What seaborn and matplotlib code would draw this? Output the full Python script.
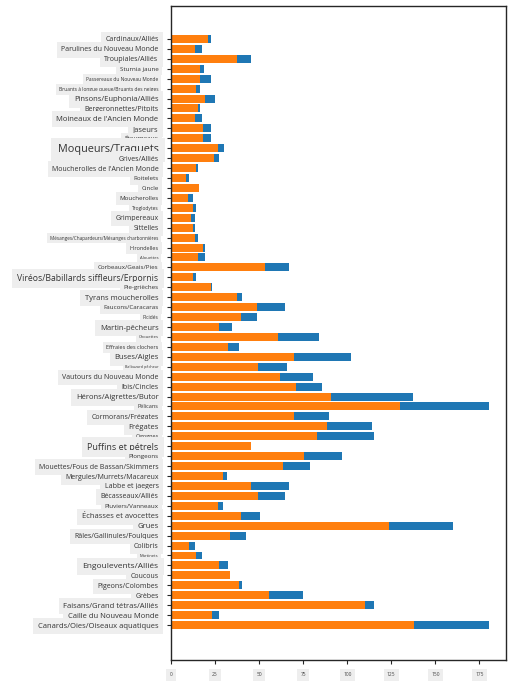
import pandas as pd
import numpy as np
import seaborn as sns
import matplotlib.pyplot as plt

# bird families (top to bottom) and their min / max values
categories = [
    "Cardinaux/Alliés", "Parulines du Nouveau Monde", "Troupiales/Alliés", "Sturnia jaune",
    "Passereaux du Nouveau Monde", "Bruants à longue queue/Bruants des neiges",
    "Pinsons/Euphonia/Alliés", "Bergeronnettes/Pitpits", "Moineaux de l'Ancien Monde",
    "Jaseurs", "Étourneaux", "Moqueurs/Traquets", "Grives/Alliés",
    "Moucherolles de l'Ancien Monde", "Roitelets", "Cincle", "Moucherolles", "Troglodytes",
    "Grimpereaux", "Sittelles", "Mésanges/Chapardeurs/Mésanges charbonnières",
    "Hirondelles", "Alouettes", "Corbeaux/Geais/Pies", "Viréos/Babillards siffleurs/Erpornis",
    "Pie-grièches", "Tyrans moucherolles", "Faucons/Caracaras", "Picidés", "Martin-pêcheurs",
    "Chouettes", "Effraies des clochers", "Buses/Aigles", "Balbuzard pêcheur",
    "Vautours du Nouveau Monde", "Ibis/Cincles", "Hérons/Aigrettes/Butor", "Pélicans",
    "Cormorans/Frégates", "Frégates", "Cigognes", "Puffins et pétrels", "Plongeons",
    "Mouettes/Fous de Bassan/Skimmers", "Mergules/Murrets/Macareux", "Labbe et jaegers",
    "Bécasseaux/Alliés", "Pluviers/Vanneaux", "Échasses et avocettes", "Grues",
    "Râles/Gallinules/Foulques", "Colibris", "Martinets", "Engoulevents/Alliés", "Coucous",
    "Pigeons/Colombes", "Grèbes", "Faisans/Grand tétras/Alliés", "Caille du Nouveau Monde",
    "Canards/Oies/Oiseaux aquatiques",
]
min_vals = [
    20.8, 13.8, 37.6, 16.5, 16.5, 14.4, 19.5, 15.3, 13.8, 18.4,
    18.4, 26.9, 24.6, 14.4, 8.7, 16.1, 9.8, 12.7, 11.5, 12.7,
    13.8, 18.4, 15.5, 53.5, 12.7, 22.9, 37.6, 49.0, 39.9, 27.4,
    60.9, 32.5, 69.8, 49.6, 61.9, 71.1, 91.0, 130.2, 70.0, 88.7,
    83.1, 45.6, 75.7, 63.8, 29.7, 45.6, 49.6, 26.9, 39.9, 123.9,
    33.7, 10.4, 14.4, 27.4, 33.7, 38.8, 55.8, 110.3, 23.5, 138.1,
]
max_vals = [
    22.9, 17.8, 45.6, 18.9, 22.9, 16.6, 25.2, 16.6, 17.8, 22.9,
    22.9, 30.3, 27.4, 15.5, 10.4, 16.1, 12.7, 14.4, 13.8, 13.8,
    15.5, 19.5, 19.5, 67.2, 14.4, 23.5, 40.5, 64.9, 49.0, 34.8,
    84.2, 38.8, 102.3, 66.0, 80.8, 85.9, 137.5, 180.7, 89.9, 114.3,
    115.4, 45.6, 97.2, 79.1, 32.0, 67.2, 64.9, 29.7, 50.7, 160.2,
    42.8, 13.8, 17.8, 32.5, 33.7, 40.5, 75.1, 115.4, 27.4, 180.7,
]
x_ticks = [0, 25, 50, 75, 100, 125, 150, 175]

# label font sizes, uneven like in the original
label_sizes = [
    5, 5, 5, 4.5, 3.5, 3.5, 5.5, 5, 5.5, 5.5,
    4.5, 7.8, 5, 5, 4.5, 4.5, 4.5, 3.5, 5, 5,
    3.3, 4, 3, 4.5, 6.2, 4.5, 5.5, 4.5, 3.5, 5.5,
    3, 4, 5.5, 2.7, 5, 5, 5.5, 4, 5, 5.5,
    4, 6.5, 4.5, 5, 5, 5, 5, 4.5, 5.5, 5.5,
    5, 5, 3, 6, 5, 5, 5, 5.5, 5.5, 5.5,
]

df = pd.DataFrame({"Catégorie": categories, "Min": min_vals, "Max": max_vals})

sns.set_style("ticks")
plt.rcParams["font.family"] = ["Open Sans", "DejaVu Sans"]
fig = plt.figure(figsize=(5.12, 6.83), dpi=100)
ax = fig.add_axes([0.334, 0.034, 0.654, 0.957])

sns.barplot(data=df, y="Catégorie", x="Max", color="#1f77b4", saturation=1,
            width=0.8, orient="h", linewidth=0, ax=ax)
sns.barplot(data=df, y="Catégorie", x="Min", color="#ff7f0e", saturation=1,
            width=0.8, orient="h", linewidth=0, ax=ax)

ax.set_xlim(0, 190)
ax.set_ylim(len(categories) - 1 + 3.5, -3.3)
ax.set_xticks(x_ticks)
ax.set_xlabel("")
ax.set_ylabel("")
for s in ax.spines.values():
    s.set_color("#262626")
    s.set_linewidth(1.0)

ax.tick_params(axis="y", length=3, width=0.8, pad=6)
ax.tick_params(axis="x", length=3, width=0.8, pad=6, labelsize=3.5)
for lab, fs in zip(ax.get_yticklabels(), label_sizes):
    lab.set_fontsize(fs)
    lab.set_color("#333333")
    lab.set_bbox(dict(boxstyle="square,pad=0.6", facecolor="#eeeeee", edgecolor="none"))
for lab in ax.get_xticklabels():
    lab.set_color("#444444")
    lab.set_bbox(dict(boxstyle="square,pad=0.7", facecolor="#eeeeee", edgecolor="none"))

fig.savefig("out.png", dpi=100)
